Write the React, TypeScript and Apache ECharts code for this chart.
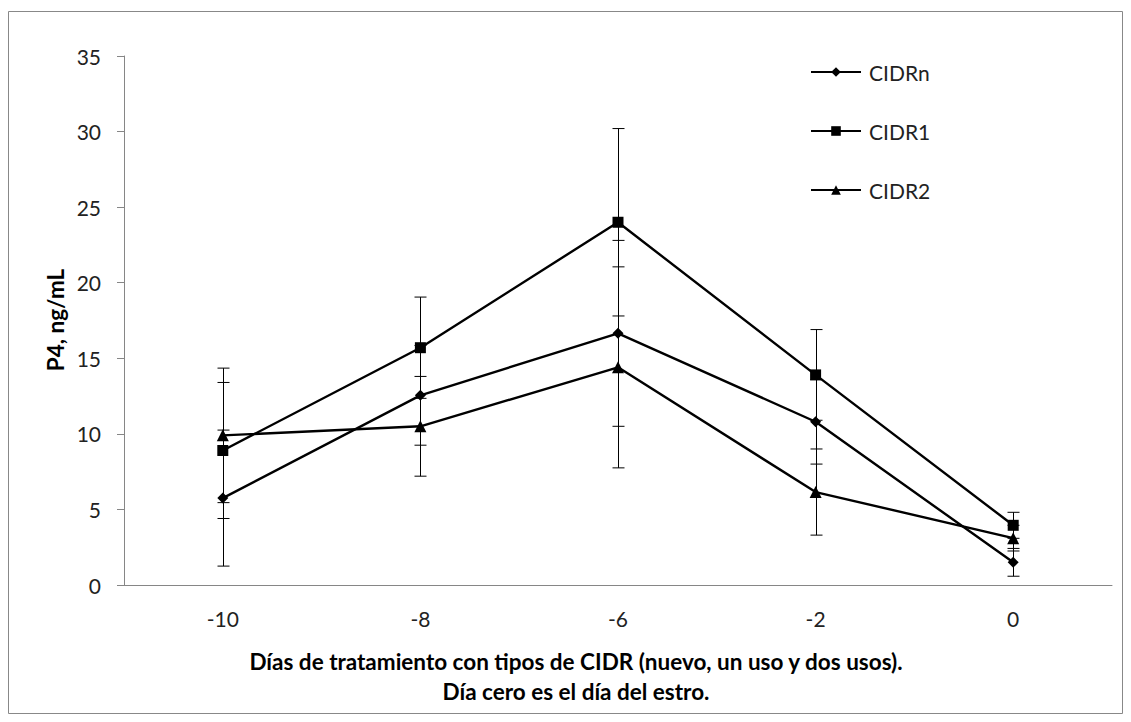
import React, { useEffect, useRef } from "react";
import * as echarts from "echarts";

const categories = ["-10", "-8", "-6", "-2", "0"];
const seriesNames = ["CIDRn", "CIDR1", "CIDR2"];
const cidrN = [5.75, 12.55, 16.65, 10.8, 1.5];
const cidrNErr = [4.5, 3.3, 6.15, 2.8, 0.92];
const cidr1 = [8.9, 15.7, 24.0, 13.9, 3.95];
const cidr1Err = [4.5, 3.35, 6.2, 3.0, 0.86];
const cidr2 = [9.9, 10.5, 14.4, 6.15, 3.1];
const cidr2Err = [4.45, 3.3, 6.65, 2.85, 0.85];
const yTicks = { min: 0, max: 35, interval: 5 };
const xTitle1 = "Días de tratamiento con tipos de CIDR (nuevo, un uso y dos usos).";
const xTitle2 = "Día cero es el día del estro.";
const yTitle = "P4, ng/mL";

const FONT = "Lato, 'Liberation Sans', sans-serif";

function errData(vals: number[], errs: number[]) {
  return vals.map((v, i) => [i, v - errs[i], v + errs[i]]);
}

function errSeries(name: string, vals: number[], errs: number[]) {
  return {
    type: "custom",
    name,
    z: 1,
    silent: true,
    data: errData(vals, errs),
    encode: { x: 0, y: [1, 2] },
    renderItem: (params: any, api: any) => {
      const x = api.value(0);
      const lo = api.coord([x, api.value(1)]);
      const hi = api.coord([x, api.value(2)]);
      const cx = Math.round(lo[0]) + 0.5;
      const w = 6;
      const style = { stroke: "#000", lineWidth: 1 };
      return {
        type: "group",
        children: [
          { type: "line", shape: { x1: cx, y1: hi[1], x2: cx, y2: lo[1] }, style },
          { type: "line", shape: { x1: cx - w, y1: hi[1], x2: cx + w, y2: hi[1] }, style },
          { type: "line", shape: { x1: cx - w, y1: lo[1], x2: cx + w, y2: lo[1] }, style },
        ],
      };
    },
  };
}

function lineSeries(name: string, vals: number[], symbol: string, size: number | number[]) {
  return {
    type: "line",
    name,
    z: 3,
    data: vals,
    symbol,
    symbolSize: size,
    showAllSymbol: true,
    lineStyle: { color: "#000", width: 2.4 },
    itemStyle: { color: "#000", borderWidth: 0 },
  };
}

export default function App() {
  const ref = useRef<HTMLDivElement>(null);
  useEffect(() => {
    if (!ref.current) return;
    const chart = echarts.init(ref.current, undefined, { renderer: "svg" });
    chart.setOption({
      animation: false,
      backgroundColor: "#fff",
      grid: { left: 124, right: 19, top: 56, bottom: 137, containLabel: false },
      xAxis: {
        type: "category",
        data: categories,
        boundaryGap: true,
        axisLine: { lineStyle: { color: "#868686", width: 1 } },
        axisTick: { show: false },
        axisLabel: { color: "#222", fontSize: 21, fontFamily: FONT, margin: 23 },
      },
      yAxis: {
        type: "value",
        min: yTicks.min,
        max: yTicks.max,
        interval: yTicks.interval,
        splitLine: { show: false },
        axisLine: { show: true, lineStyle: { color: "#868686", width: 1 } },
        axisTick: { show: true, inside: false, length: 7, lineStyle: { color: "#868686" } },
        axisLabel: { color: "#222", fontSize: 21, fontFamily: FONT, margin: 23 },
      },
      legend: {
        data: seriesNames,
        orient: "vertical",
        left: 810,
        top: 61,
        padding: 0,
        itemWidth: 50,
        itemHeight: 12,
        itemGap: 37,
        textStyle: { color: "#222", fontSize: 21, fontFamily: FONT, lineHeight: 22, padding: [0, 0, 0, 3] },
      },
      graphic: [
        {
          type: "rect",
          shape: { x: 8.5, y: 11.5, width: 1114, height: 702 },
          style: { fill: "none", stroke: "#888", lineWidth: 1 },
          silent: true,
        },
        {
          type: "text",
          x: 576,
          y: 661,
          style: {
            text: xTitle1,
            fontSize: 22.5,
            fontWeight: "bold",
            fontFamily: FONT,
            fill: "#000",
            textAlign: "center",
            textVerticalAlign: "middle",
          },
        },
        {
          type: "text",
          x: 576,
          y: 691,
          style: {
            text: xTitle2,
            fontSize: 22.5,
            fontWeight: "bold",
            fontFamily: FONT,
            fill: "#000",
            textAlign: "center",
            textVerticalAlign: "middle",
          },
        },
        {
          type: "text",
          x: 55,
          y: 320,
          rotation: Math.PI / 2,
          style: {
            text: yTitle,
            fontSize: 22.5,
            fontWeight: "bold",
            fontFamily: FONT,
            fill: "#000",
            textAlign: "center",
            textVerticalAlign: "middle",
          },
        },
      ],
      series: [
        errSeries("errN", cidrN, cidrNErr),
        errSeries("err1", cidr1, cidr1Err),
        errSeries("err2", cidr2, cidr2Err),
        lineSeries(seriesNames[0], cidrN, "diamond", [11, 11]),
        lineSeries(seriesNames[1], cidr1, "rect", 11),
        lineSeries(seriesNames[2], cidr2, "triangle", 12),
      ],
    });
    return () => chart.dispose();
  }, []);
  return (
    <div
      ref={ref}
      style={{ position: "fixed", left: 0, top: 0, width: 1131, height: 722 }}
    />
  );
}
